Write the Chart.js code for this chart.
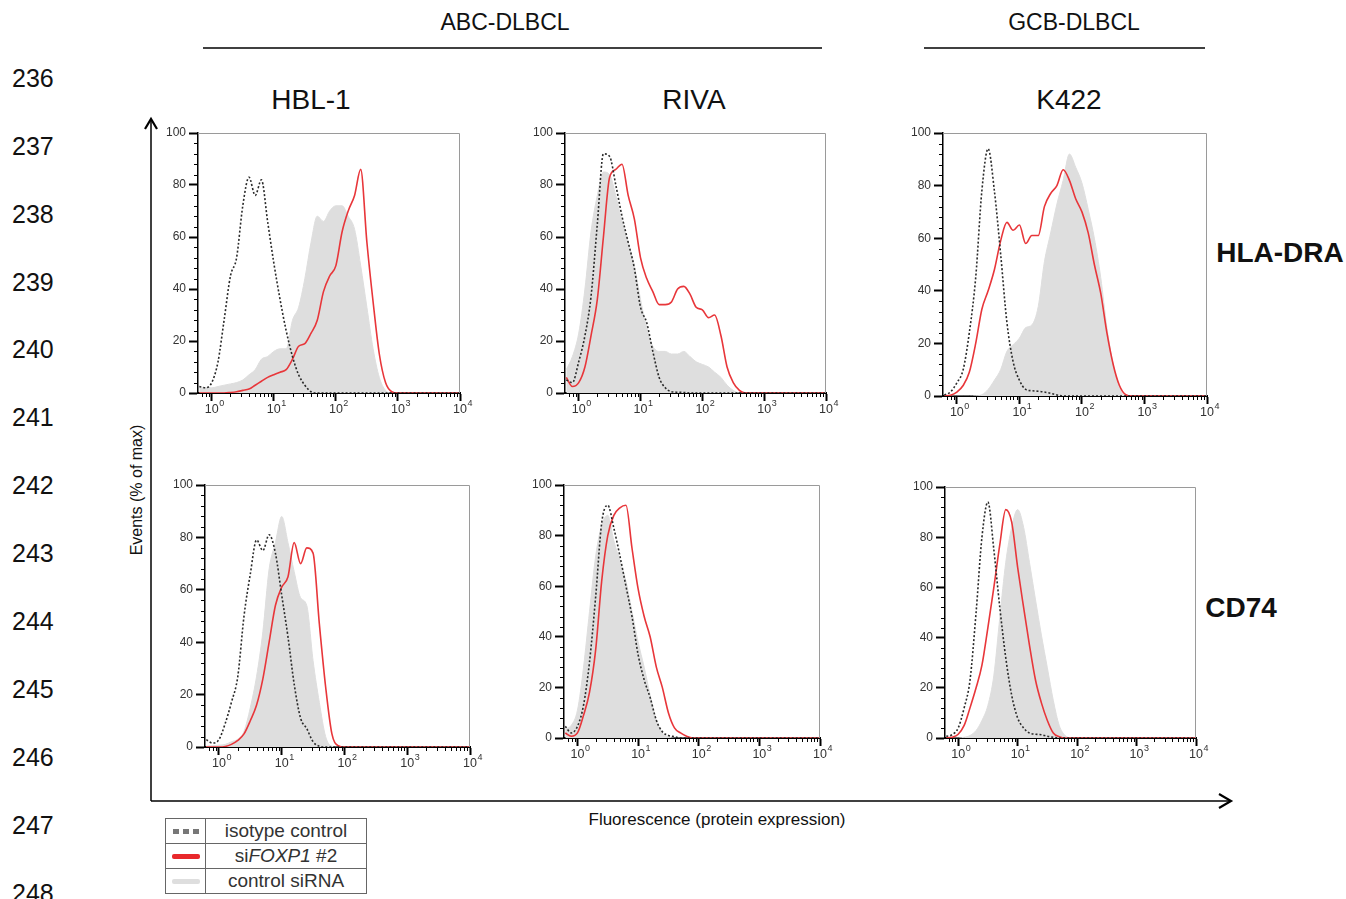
<!DOCTYPE html>
<html>
<head>
<meta charset="utf-8">
<script src="https://cdn.jsdelivr.net/npm/chart.js@4.4.1/dist/chart.umd.min.js"></script>
<style>
  body { margin: 0; background: #fff; width: 1346px; height: 899px; overflow: hidden; position: relative; font-family: "Liberation Sans", Arial, sans-serif; color: #111; }
  .t { position: absolute; white-space: nowrap; transform: translate(-50%, -50%); }
  .ln { position: absolute; left: 12px; font-size: 25px; transform: translateY(-50%); color: #111; }
  .box { position: absolute; }
  #legend { position: absolute; left: 165px; top: 818px; border-collapse: collapse; border: 1.5px solid #444; font-size: 19px; color: #333; }
  #legend td { border: 1px solid #666; height: 24px; padding: 0; text-align: center; line-height: 24px; }
  #legend td.sw { width: 39px; }
  #legend td.lab { width: 160px; }
  .dots { display: inline-block; width: 26px; height: 5px; vertical-align: middle; background: repeating-linear-gradient(90deg, #777 0 6px, transparent 6px 10px); }
  .redl { display: inline-block; width: 28px; height: 5px; vertical-align: middle; background: #e8282b; border-radius: 2px; }
  .grayl { display: inline-block; width: 28px; height: 5px; vertical-align: middle; background: #dedede; border-radius: 2px; }
</style>
</head>
<body>

<svg width="1346" height="899" style="position:absolute;left:0;top:0">
  <line x1="203" y1="48" x2="822" y2="48" stroke="#000" stroke-width="1.3"/>
  <line x1="924" y1="48" x2="1205" y2="48" stroke="#000" stroke-width="1.3"/>
  <line x1="151" y1="120" x2="151" y2="801" stroke="#000" stroke-width="1.5"/>
  <line x1="151" y1="801" x2="1230" y2="801" stroke="#000" stroke-width="1.5"/>
  <polyline points="145,129 151,119 157,129" fill="none" stroke="#000" stroke-width="2.2"/>
  <polyline points="1219,794 1231,801 1219,808" fill="none" stroke="#000" stroke-width="2.2"/>
</svg>

<div class="ln" style="top:78px">236</div>
<div class="ln" style="top:146px">237</div>
<div class="ln" style="top:214px">238</div>
<div class="ln" style="top:282px">239</div>
<div class="ln" style="top:349px">240</div>
<div class="ln" style="top:417px">241</div>
<div class="ln" style="top:485px">242</div>
<div class="ln" style="top:553px">243</div>
<div class="ln" style="top:621px">244</div>
<div class="ln" style="top:689px">245</div>
<div class="ln" style="top:757px">246</div>
<div class="ln" style="top:825px">247</div>
<div class="ln" style="top:893px">248</div>

<div class="t" style="left:505px;top:22px;font-size:23px">ABC-DLBCL</div>
<div class="t" style="left:1074px;top:22px;font-size:23px">GCB-DLBCL</div>
<div class="t" style="left:311px;top:100px;font-size:28px">HBL-1</div>
<div class="t" style="left:694px;top:100px;font-size:28px">RIVA</div>
<div class="t" style="left:1069px;top:100px;font-size:28px">K422</div>
<div class="t" style="left:1280px;top:253px;font-size:28px;font-weight:bold">HLA-DRA</div>
<div class="t" style="left:1241px;top:608px;font-size:28px;font-weight:bold">CD74</div>
<div class="t" style="left:137px;top:490px;font-size:16px;transform:translate(-50%,-50%) rotate(-90deg)">Events (% of max)</div>
<div class="t" style="left:717px;top:820px;font-size:17px">Fluorescence (protein expression)</div>

<div class="box" id="b1"><canvas id="c1"></canvas></div>
<div class="box" id="b2"><canvas id="c2"></canvas></div>
<div class="box" id="b3"><canvas id="c3"></canvas></div>
<div class="box" id="b4"><canvas id="c4"></canvas></div>
<div class="box" id="b5"><canvas id="c5"></canvas></div>
<div class="box" id="b6"><canvas id="c6"></canvas></div>

<table id="legend">
  <tr><td class="sw"><span class="dots"></span></td><td class="lab">isotype control</td></tr>
  <tr><td class="sw"><span class="redl"></span></td><td class="lab">si<i>FOXP1</i> #2</td></tr>
  <tr><td class="sw"><span class="grayl"></span></td><td class="lab">control siRNA</td></tr>
</table>

<script>
// fluorescence channels (log-spaced), shared by every histogram
const xs = [0.63, 0.79, 1, 1.26, 1.58, 2, 2.51, 3.16, 3.98, 5.01, 6.31, 7.94, 10, 12.6, 15.8, 20, 25.1, 31.6, 39.8, 50.1, 63.1, 79.4, 100, 126, 158, 200, 251, 316, 398, 501, 631, 794, 1000, 1260, 10000];

// HLA-DRA row (% of max)
const hblDraIso  = [2.5, 2, 4, 12, 28, 45, 52, 72, 83, 76, 82, 66, 50, 36, 24, 14, 7, 3, 0.5, 0, 0, 0, 0, 0, 0, 0, 0, 0, 0, 0, 0, 0, 0, 0, 0];
const hblDraSi   = [0, 0, 0, 0, 0, 0.2, 0.5, 1, 1.5, 3, 4.5, 6, 7, 8, 9, 13, 18, 19, 23, 28, 39, 45, 49, 62, 70, 76, 86, 58, 35, 15, 4, 0.5, 0, 0, 0];
const hblDraCtrl = [2, 2, 2, 2.5, 3, 3.5, 4, 5, 7, 9, 13, 14, 16, 17, 17, 28, 33, 44, 58, 68, 66, 70, 72, 72, 68, 63, 49, 33, 17, 6, 1, 0, 0, 0, 0];

const rivaDraIso  = [5, 4, 12, 22, 37, 65, 92, 91, 80, 68, 58, 48, 33, 27, 16, 6, 2, 0.5, 0.3, 0.2, 0, 0, 0, 0, 0, 0, 0, 0, 0, 0, 0, 0, 0, 0, 0];
const rivaDraSi   = [6, 2.5, 4, 10, 22, 36, 60, 83, 86, 88, 76, 67, 52, 44, 39, 34, 34, 35, 40, 41, 38, 33, 32, 29, 30, 22, 10, 4, 1, 0, 0, 0, 0, 0, 0];
const rivaDraCtrl = [9, 14, 23, 40, 62, 76, 85, 84, 76, 66, 58, 49, 36, 25, 18, 16, 16, 15, 15, 16, 14, 12, 11, 10, 8, 6, 3, 1, 0, 0, 0, 0, 0, 0, 0];

const k422DraIso  = [0.4, 1.5, 5, 10, 24, 45, 78, 94, 78, 54, 28, 13, 6, 2.5, 2, 1.8, 1.5, 1, 0.4, 0, 0, 0, 0, 0, 0, 0, 0, 0, 0, 0, 0, 0, 0, 0, 0];
const k422DraSi   = [0, 0.3, 1.5, 4, 9, 20, 33, 40, 48, 59, 66, 63, 65, 58, 61, 61, 72, 77, 80, 86, 82, 75, 70, 62, 50, 39, 24, 12, 4, 0.5, 0, 0, 0, 0, 0];
const k422DraCtrl = [0, 0, 0, 0, 0, 0.1, 0.5, 2.5, 6, 10, 17, 19.5, 22, 26, 27, 34, 51, 62, 73, 82, 92, 87, 81, 71, 60, 45, 26, 12, 3, 0, 0, 0, 0, 0, 0];

// CD74 row (% of max)
const hblCd74Iso  = [2.8, 1.5, 2.8, 9, 17, 27, 50, 66, 79, 75, 81, 74, 58, 42, 24, 11, 7, 2, 0.3, 0, 0, 0, 0, 0, 0, 0, 0, 0, 0, 0, 0, 0, 0, 0, 0];
const hblCd74Si   = [0, 0, 0, 0.2, 1, 2.5, 5, 10, 16, 26, 40, 54, 61, 65, 78, 70, 76, 74, 47, 23, 5, 0.5, 0, 0, 0, 0, 0, 0, 0, 0, 0, 0, 0, 0, 0];
const hblCd74Ctrl = [0.3, 0.5, 0.7, 1, 2, 3, 6, 15, 27, 44, 68, 78, 88, 78, 67, 57, 54, 33, 17, 4, 0.3, 0, 0, 0, 0, 0, 0, 0, 0, 0, 0, 0, 0, 0, 0];

const rivaCd74Iso  = [4.6, 2, 4.6, 13, 30, 56, 85, 92, 83, 72, 60, 48, 33, 23, 16, 7, 2.5, 1, 0.5, 0, 0, 0, 0, 0, 0, 0, 0, 0, 0, 0, 0, 0, 0, 0, 0];
const rivaCd74Si   = [2, 0.7, 2, 9, 18, 35, 62, 80, 88, 91, 92, 75, 59, 48, 40, 28, 20, 10, 4, 2, 0.7, 0, 0, 0, 0, 0, 0, 0, 0, 0, 0, 0, 0, 0, 0];
const rivaCd74Ctrl = [3.5, 5, 11, 28, 50, 72, 84, 88, 78, 70, 62, 50, 38, 28, 17, 7, 2, 0.5, 0, 0, 0, 0, 0, 0, 0, 0, 0, 0, 0, 0, 0, 0, 0, 0, 0];

const k422Cd74Iso  = [0.7, 1.3, 4, 12, 23, 50, 80, 94, 75, 52, 32, 17, 8, 4, 2, 1.5, 1.3, 0.7, 0.3, 0, 0, 0, 0, 0, 0, 0, 0, 0, 0, 0, 0, 0, 0, 0, 0];
const k422Cd74Si   = [0, 0.3, 1.5, 5, 12, 20, 29, 44, 60, 77, 91, 86, 68, 52, 37, 23, 14, 7, 2, 0.5, 0, 0, 0, 0, 0, 0, 0, 0, 0, 0, 0, 0, 0, 0, 0];
const k422Cd74Ctrl = [0, 0, 0, 0.3, 1, 3, 7, 13, 25, 48, 70, 84, 91, 84, 70, 55, 41, 28, 15, 5, 1, 0, 0, 0, 0, 0, 0, 0, 0, 0, 0, 0, 0, 0, 0];

// axis ticks
const decadeTicks = [1, 10, 100, 1000, 10000];
const decadeExp = ['0', '1', '2', '3', '4'];
const minorMult = [2, 3, 4, 5, 6, 7, 8, 9];
const yLabelStep = 20;
const yMinorStep = 4;

const X_MIN = 0.63, X_MAX = 10000;
const xMinor = [0.7, 0.8, 0.9];
decadeTicks.slice(0, 4).forEach(d => minorMult.forEach(m => xMinor.push(d * m)));
const yMinor = [];
for (let v = 0; v <= 100; v += yMinorStep) if (v % yLabelStep) yMinor.push(v);

// plot areas of the six panels (px on the page)
const panels = [
  { n: 1, L: 198, T: 133, W: 262, H: 260, sets: [hblDraIso, hblDraSi, hblDraCtrl] },
  { n: 2, L: 565, T: 133, W: 261, H: 260, sets: [rivaDraIso, rivaDraSi, rivaDraCtrl] },
  { n: 3, L: 943, T: 133, W: 264, H: 263, sets: [k422DraIso, k422DraSi, k422DraCtrl] },
  { n: 4, L: 205, T: 485, W: 265, H: 262, sets: [hblCd74Iso, hblCd74Si, hblCd74Ctrl] },
  { n: 5, L: 564, T: 485, W: 256, H: 253, sets: [rivaCd74Iso, rivaCd74Si, rivaCd74Ctrl] },
  { n: 6, L: 945, T: 487, W: 251, H: 251, sets: [k422Cd74Iso, k422Cd74Si, k422Cd74Ctrl] }
];

const PAD_L = 48, PAD_T = 12, PAD_R = 18, PAD_B = 36;

const pts = ys => ys.map((y, i) => ({ x: xs[i], y: y }));

// gray frame on top/right, short minor ticks and 10^n labels
const frame = {
  id: 'frame',
  afterDatasetsDraw(chart) {
    const { ctx, chartArea: a } = chart;
    ctx.save();
    ctx.strokeStyle = '#9a9a9a';
    ctx.lineWidth = 1;
    ctx.beginPath();
    ctx.moveTo(a.left, a.top + 0.5);
    ctx.lineTo(a.right - 0.5, a.top + 0.5);
    ctx.lineTo(a.right - 0.5, a.bottom);
    ctx.stroke();
    ctx.restore();
  },
  afterDraw(chart) {
    const { ctx, scales: { x, y } } = chart;
    ctx.save();
    ctx.strokeStyle = '#000';
    ctx.lineWidth = 1;
    ctx.beginPath();
    yMinor.forEach(v => {
      const py = Math.round(y.getPixelForValue(v)) + 0.5;
      ctx.moveTo(y.right - 4, py); ctx.lineTo(y.right, py);
    });
    xMinor.forEach(v => {
      const px = Math.round(x.getPixelForValue(v)) + 0.5;
      ctx.moveTo(px, x.top); ctx.lineTo(px, x.top + 4);
    });
    ctx.stroke();
    ctx.fillStyle = '#333';
    ctx.textBaseline = 'middle';
    decadeTicks.forEach((v, i) => {
      const px = x.getPixelForValue(v);
      ctx.font = '12.5px "Liberation Sans", Arial, sans-serif';
      ctx.textAlign = 'center';
      ctx.fillText('10', px, x.top + 17);
      const w = ctx.measureText('10').width;
      ctx.font = '9px "Liberation Sans", Arial, sans-serif';
      ctx.textAlign = 'left';
      ctx.fillText(decadeExp[i], px + w / 2 + 0.5, x.top + 11);
    });
    ctx.restore();
  }
};

panels.forEach(p => {
  const canvas = document.getElementById('c' + p.n);
  const box = document.getElementById('b' + p.n);
  canvas.width = p.W + PAD_L + PAD_R;
  canvas.height = p.H + PAD_T + PAD_B;
  const [iso, si, ctrl] = p.sets;
  const chart = new Chart(canvas, {
    type: 'line',
    data: {
      datasets: [
        { label: 'isotype control', data: pts(iso), borderColor: '#2a2a2a', borderWidth: 1.6, borderDash: [2, 2], pointRadius: 0, fill: false, cubicInterpolationMode: 'monotone' },
        { label: 'siFOXP1 #2', data: pts(si), borderColor: '#e8363a', borderWidth: 1.6, pointRadius: 0, fill: false, cubicInterpolationMode: 'monotone' },
        { label: 'control siRNA', data: pts(ctrl), borderColor: '#dedede', borderWidth: 1, backgroundColor: '#dedede', pointRadius: 0, fill: 'origin', cubicInterpolationMode: 'monotone' }
      ]
    },
    options: {
      responsive: false, maintainAspectRatio: false, animation: false,
      layout: { padding: { top: PAD_T, right: PAD_R } },
      plugins: { legend: { display: false }, tooltip: { enabled: false } },
      scales: {
        x: {
          type: 'logarithmic', min: X_MIN, max: X_MAX,
          border: { color: '#000', width: 2 },
          grid: { drawOnChartArea: false, tickLength: 8, tickColor: '#000', tickWidth: 2 },
          ticks: { autoSkip: false, maxRotation: 0, callback: () => '' },
          afterBuildTicks: s => { s.ticks = decadeTicks.map(v => ({ value: v })); },
          afterFit: s => { s.height = PAD_B; }
        },
        y: {
          min: 0, max: 100,
          border: { color: '#000', width: 1.5 },
          grid: { drawOnChartArea: false, tickLength: 9, tickColor: '#000', tickWidth: 2 },
          ticks: { stepSize: yLabelStep, autoSkip: false, padding: 3, color: '#333', font: { family: 'Liberation Sans', size: 12 } },
          afterFit: s => { s.width = PAD_L; }
        }
      }
    },
    plugins: [frame]
  });
  // put the plot area exactly where the reference has it
  const a = chart.chartArea;
  const dw = p.W - (a.right - a.left), dh = p.H - (a.bottom - a.top);
  if (dw || dh) chart.resize(chart.width + dw, chart.height + dh);
  const b = chart.chartArea;
  box.style.left = (p.L - b.left) + 'px';
  box.style.top = (p.T - b.top) + 'px';
});
</script>
</body>
</html>
